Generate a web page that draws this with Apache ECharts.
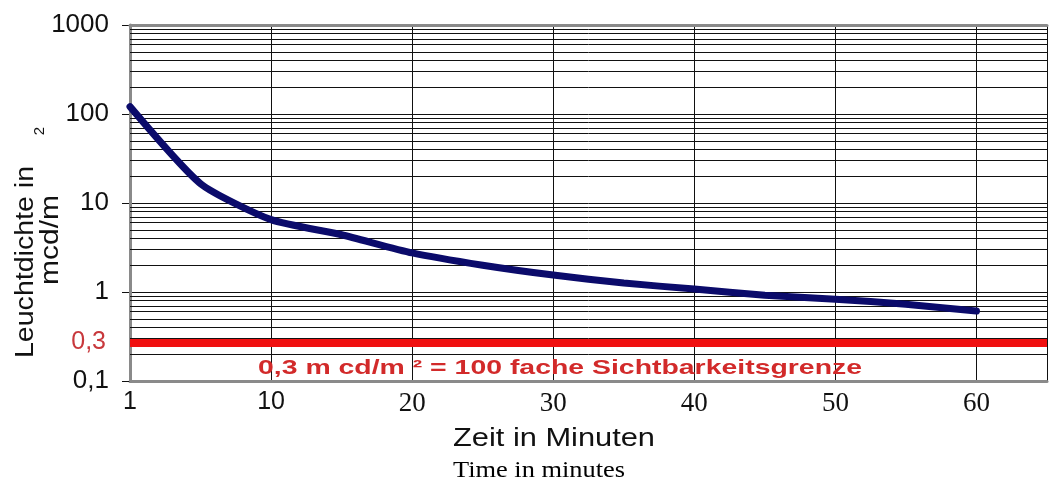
<!DOCTYPE html>
<html>
<head>
<meta charset="utf-8">
<script src="https://cdn.jsdelivr.net/npm/echarts@6/dist/echarts.min.js"></script>
<style>
  html, body { margin: 0; padding: 0; background: #fff; }
  #J_chart { width: 1054px; height: 501px; }
</style>
</head>
<body>
<div id="J_chart"></div>
<script>
// plotted minute positions (first point sits on the axis start, labelled "1")
var minutes = [0, 5, 10, 15, 20, 25, 30, 35, 40, 45, 50, 55, 60];
var luminance = [121, 16.5, 6.5, 4.4, 2.75, 2.0, 1.55, 1.26, 1.08, 0.92, 0.83, 0.73, 0.61];

var xTicks = [0, 10, 20, 30, 40, 50, 60];
var xTickLabels = ['1', '10', '20', '30', '40', '50', '60'];

// thin lines between the decades of the log axis
var minorLevels = [0.2, 0.3, 0.4, 0.5, 0.6, 0.7, 0.8, 0.9,
                   2, 3, 4, 5, 6, 7, 8, 9,
                   20, 30, 40, 50, 60, 70, 80, 90,
                   200, 300, 400, 500, 600, 700, 800, 900];

var limitLevel = 0.27;
var limitLabel = '0,3';
var limitText = '0,3 m cd/m \u00b2 = 100 fache Sichtbarkeitsgrenze';

var xTitle = 'Zeit in Minuten';
var xSubTitle = 'Time in minutes';
var yTitle1 = 'Leuchtdichte in';
var yTitle2 = 'mcd/m';

function stretch(text, font, width) {
    var ctx = document.createElement('canvas').getContext('2d');
    ctx.font = font;
    return width / ctx.measureText(text).width;
}

function chart() {
    var myChart = echarts.init(document.getElementById('J_chart'));

    var sans = '"Liberation Sans", Arial, sans-serif';
    var serif = '"Liberation Serif", "Times New Roman", serif';

    var curveData = [];
    for (var i = 0; i < minutes.length; i++) {
        curveData.push([minutes[i], luminance[i]]);
    }

    var minorData = [];
    for (var j = 0; j < minorLevels.length; j++) {
        minorData.push({ yAxis: minorLevels[j] });
    }

    var fTitle = '25px ' + sans;
    var fSub = '24px ' + serif;
    var fRed = 'bold 21px ' + sans;
    var fY = '26px ' + sans;

    var option = {
        backgroundColor: '#fff',
        animation: false,
        grid: {
            left: 130,
            right: 7,
            top: 25,
            bottom: 120
        },
        xAxis: [{
            type: 'value',
            min: 0,
            max: 65,
            interval: 10,
            z: 3,
            axisLine: { show: true, lineStyle: { color: '#8a8a8a', width: 3 } },
            axisTick: { show: false },
            axisLabel: {
                margin: 9,
                showMaxLabel: false,
                formatter: function (value) {
                    var k = xTicks.indexOf(value);
                    if (k < 0) return '';
                    return k < 2 ? '{s|' + xTickLabels[k] + '}' : '{t|' + xTickLabels[k] + '}';
                },
                rich: {
                    s: { fontFamily: sans, fontSize: 25, color: '#111' },
                    t: { fontFamily: serif, fontSize: 27, color: '#111' }
                }
            },
            splitLine: { show: true, lineStyle: { color: '#111', width: 1 } }
        }, {
            type: 'value',
            position: 'top',
            min: 0,
            max: 65,
            interval: 10,
            z: 4,
            axisLine: { show: true, lineStyle: { color: '#8a8a8a', width: 3 } },
            axisTick: { show: false },
            axisLabel: { show: false },
            splitLine: { show: false }
        }],
        yAxis: [{
            type: 'log',
            logBase: 10,
            min: 0.1,
            max: 1000,
            z: 3,
            axisLine: { show: true, lineStyle: { color: '#111', width: 1 } },
            axisTick: { show: true, length: 8, lineStyle: { color: '#111' } },
            axisLabel: {
                margin: 21,
                fontFamily: sans,
                fontSize: 26,
                color: '#111',
                formatter: function (value) {
                    return String(value).replace('.', ',');
                }
            },
            splitLine: { show: true, lineStyle: { color: '#111', width: 1 } }
        }, {
            type: 'log',
            logBase: 10,
            min: 0.1,
            max: 1000,
            position: 'right',
            z: 4,
            axisLine: { show: true, lineStyle: { color: '#8a8a8a', width: 3 } },
            axisTick: { show: false },
            axisLabel: { show: false },
            splitLine: { show: false }
        }],
        series: [{
            type: 'line',
            name: 'minor',
            data: [],
            z: 1,
            silent: true,
            markLine: {
                silent: true,
                symbol: 'none',
                label: { show: false },
                lineStyle: { color: '#111', width: 1, type: 'solid' },
                data: minorData
            }
        }, {
            type: 'line',
            name: 'limit',
            data: [],
            z: 5,
            silent: true,
            markLine: {
                silent: true,
                symbol: 'none',
                lineStyle: { color: '#f01010', width: 8, type: 'solid' },
                label: {
                    show: true,
                    position: 'start',
                    distance: 24,
                    formatter: limitLabel,
                    fontFamily: sans,
                    fontSize: 25,
                    color: '#c8383c'
                },
                data: [{ yAxis: limitLevel }]
            }
        }, {
            type: 'line',
            name: 'Leuchtdichte',
            data: curveData,
            z: 10,
            symbol: 'none',
            smooth: 0.2,
            lineStyle: { color: '#0b0b6b', width: 7, cap: 'round', join: 'round' }
        }],
        graphic: [{
            type: 'text',
            x: 554,
            y: 439,
            scaleX: stretch(xTitle, fTitle, 202),
            style: { text: xTitle, font: fTitle, fill: '#111', align: 'center', verticalAlign: 'middle' }
        }, {
            type: 'text',
            x: 539,
            y: 471,
            scaleX: stretch(xSubTitle, fSub, 172),
            style: { text: xSubTitle, font: fSub, fill: '#000', align: 'center', verticalAlign: 'middle' }
        }, {
            type: 'text',
            x: 258,
            y: 368,
            scaleX: stretch(limitText, fRed, 604),
            z: 6,
            style: { text: limitText, font: fRed, fill: '#d22a2a', align: 'left', verticalAlign: 'middle' }
        }, {
            type: 'text',
            x: 26,
            y: 262,
            rotation: Math.PI / 2,
            scaleX: stretch(yTitle1, fY, 192),
            style: { text: yTitle1, font: fY, fill: '#111', align: 'center', verticalAlign: 'middle' }
        }, {
            type: 'text',
            x: 51,
            y: 240,
            rotation: Math.PI / 2,
            scaleX: stretch(yTitle2, fY, 90),
            style: { text: yTitle2, font: fY, fill: '#111', align: 'center', verticalAlign: 'middle' }
        }, {
            type: 'text',
            x: 40,
            y: 131,
            rotation: Math.PI / 2,
            style: { text: '2', font: '15px ' + sans, fill: '#111', align: 'center', verticalAlign: 'middle' }
        }]
    };

    myChart.setOption(option);
}

chart();
</script>
</body>
</html>
